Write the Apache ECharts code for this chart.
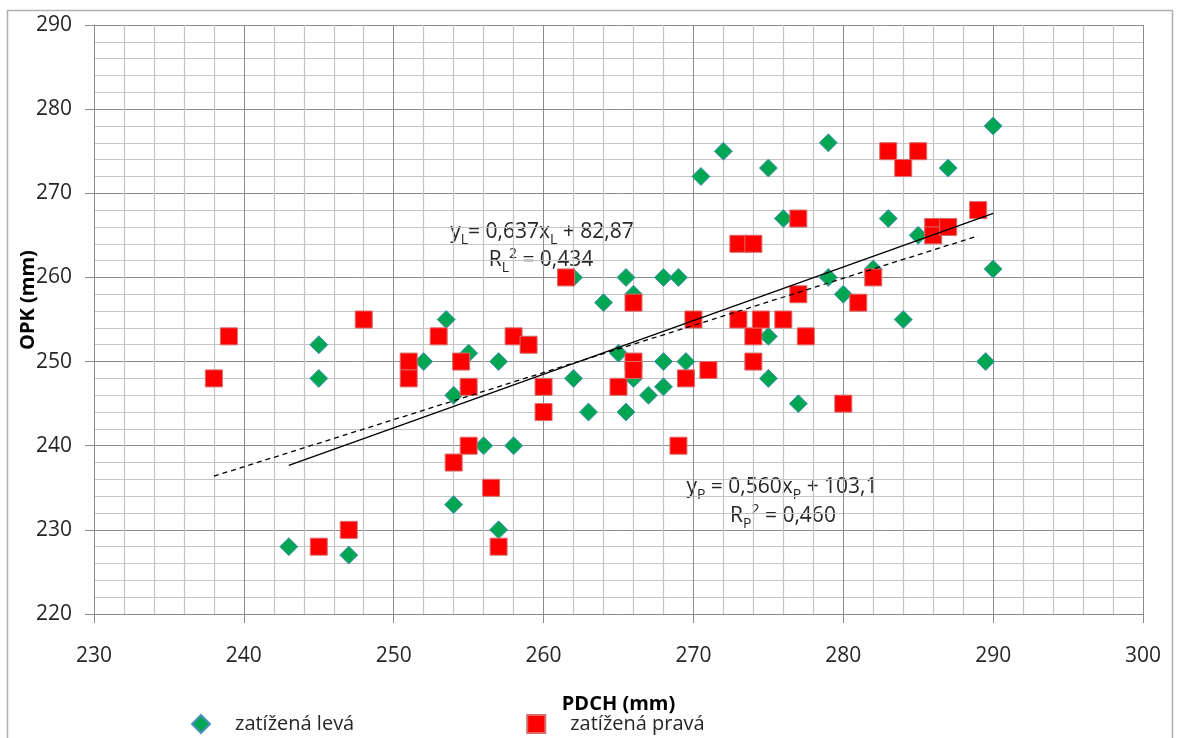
<!DOCTYPE html>
<html>
<head>
<meta charset="utf-8">
<title>OPK vs PDCH</title>
<script src="https://cdn.jsdelivr.net/npm/echarts@6/dist/echarts.min.js"></script>
<style>
  html, body { margin: 0; padding: 0; background: #fff; }
  #chart { width: 1178px; height: 738px; }
</style>
</head>
<body>
<div id="chart"></div>
<script>
// zatížená levá (loaded left side): PDCH and OPK in mm
const levaPDCH = [243, 245, 245, 247, 252, 253.5, 254, 254, 255, 256, 257, 257, 258, 262, 262, 263,
  264, 265, 265.5, 265.5, 266, 266, 267, 268, 268, 268, 269, 269.5, 270.5, 272, 275, 275, 275,
  276, 277, 279, 279, 280, 282, 283, 284, 285, 287, 289.5, 290, 290];
const levaOPK = [228, 252, 248, 227, 250, 255, 246, 233, 251, 240, 250, 230, 240, 260, 248, 244,
  257, 251, 260, 244, 258, 248, 246, 260, 250, 247, 260, 250, 272, 275, 273, 253, 248,
  267, 245, 276, 260, 258, 261, 267, 255, 265, 273, 250, 278, 261];

// zatížená pravá (loaded right side): PDCH and OPK in mm
const pravaPDCH = [238, 239, 245, 247, 248, 251, 251, 253, 254, 254.5, 255, 255, 256.5, 257, 258,
  259, 260, 260, 261.5, 265, 266, 266, 266, 269, 269.5, 270, 271, 273, 273, 274, 274, 274,
  274.5, 276, 277, 277, 277.5, 280, 281, 282, 283, 284, 285, 286, 286, 287, 289];
const pravaOPK = [248, 253, 228, 230, 255, 250, 248, 253, 238, 250, 247, 240, 235, 228, 253,
  252, 247, 244, 260, 247, 257, 250, 249, 240, 248, 255, 249, 264, 255, 264, 253, 250,
  255, 255, 267, 258, 253, 245, 257, 260, 275, 273, 275, 266, 265, 266, 268];

// linear trends: [slope, intercept, x from, x to]
const trendLeva = [0.637, 82.87, 243, 290];
const trendPrava = [0.560, 103.1, 238, 289];

// axis ticks
const xTicks = [230, 240, 250, 260, 270, 280, 290, 300];
const yTicks = [220, 230, 240, 250, 260, 270, 280, 290];

const pairs = (xs, ys) => xs.map((x, i) => [x, ys[i]]);
const trendLine = t => [[t[2], t[0] * t[2] + t[1]], [t[3], t[0] * t[3] + t[1]]];

const FONT = '"Open Sans", "Noto Sans", sans-serif';
const TXT = '#262626';

const chart = echarts.init(document.getElementById('chart'), null, { renderer: 'canvas' });

const axisCommon = {
  type: 'value',
  axisLine: { show: true, lineStyle: { color: '#8c8c8c', width: 1 } },
  axisTick: { show: true, inside: false, length: 9, lineStyle: { color: '#8c8c8c' } },
  splitLine: { show: true, lineStyle: { color: '#8c8c8c', width: 1 } },
  minorTick: { show: false, splitNumber: 5 },
  minorSplitLine: { show: true, lineStyle: { color: '#c4c4c4', width: 1.2 } },
  axisLabel: { color: TXT, fontSize: 21, fontFamily: FONT }
};

const eqRich = {
  n: { fill: TXT, fontSize: 21, fontFamily: FONT, lineHeight: 26, verticalAlign: 'bottom' },
  s: { fill: TXT, fontSize: 14, fontFamily: FONT, lineHeight: 26, verticalAlign: 'bottom', padding: [0, 0, -4, 0] },
  p: { fill: TXT, fontSize: 14, fontFamily: FONT, lineHeight: 26, verticalAlign: 'top', padding: [2, 0, 0, 0] }
};

chart.setOption({
  animation: false,
  backgroundColor: '#fff',
  grid: { left: 94, right: 35, top: 25, bottom: 124, containLabel: false },
  xAxis: Object.assign({}, axisCommon, {
    min: xTicks[0], max: xTicks[xTicks.length - 1], interval: 10,
    axisLabel: Object.assign({}, axisCommon.axisLabel, { margin: 32 }),
    name: 'PDCH (mm)', nameLocation: 'middle', nameGap: 80,
    nameTextStyle: { color: '#000', fontSize: 20, fontWeight: 'bold', fontFamily: FONT }
  }),
  yAxis: Object.assign({}, axisCommon, {
    min: yTicks[0], max: yTicks[yTicks.length - 1], interval: 10,
    axisLabel: Object.assign({}, axisCommon.axisLabel, { margin: 22 })
  }),
  legend: {
    left: 186, top: 709,
    itemWidth: 18, itemHeight: 18, itemGap: 172,
    textStyle: { color: TXT, fontSize: 20, fontFamily: FONT, padding: [0, 0, 0, 20] },
    data: [
      { name: 'zatížená levá', icon: 'diamond' },
      { name: 'zatížená pravá', icon: 'rect' }
    ]
  },
  graphic: [
    { type: 'rect', shape: { x: 7.5, y: 10.5, width: 1165, height: 740 },
      style: { fill: 'none', stroke: '#b0b0b0', lineWidth: 1.5 }, silent: true, z: -1 },
    { type: 'text', x: 28, y: 300, rotation: Math.PI / 2,
      style: { text: 'OPK (mm)', fill: '#000', font: 'bold 20px ' + FONT, align: 'center', verticalAlign: 'middle' } },
    { type: 'text', x: 542, y: 230,
      style: { text: '{n|y}{s|L}{n|= 0,637x}{s|L}{n| + 82,87}', align: 'center', verticalAlign: 'middle', rich: eqRich } },
    { type: 'text', x: 541, y: 258,
      style: { text: '{n|R}{s|L}{p|2}{n| = 0,434}', align: 'center', verticalAlign: 'middle', rich: eqRich } },
    { type: 'text', x: 782, y: 485,
      style: { text: '{n|y}{s|P}{n| = 0,560x}{s|P}{n| + 103,1}', align: 'center', verticalAlign: 'middle', rich: eqRich } },
    { type: 'text', x: 783, y: 514,
      style: { text: '{n|R}{s|P}{p|2}{n| = 0,460}', align: 'center', verticalAlign: 'middle', rich: eqRich } }
  ],
  series: [
    {
      name: 'zatížená levá', type: 'scatter', symbol: 'diamond', symbolSize: 18, z: 2,
      itemStyle: { color: '#00a651', borderColor: '#4f8fbf', borderWidth: 1, opacity: 1 },
      data: pairs(levaPDCH, levaOPK)
    },
    {
      name: 'zatížená pravá', type: 'scatter', symbol: 'rect', symbolSize: 17, z: 3,
      itemStyle: { color: '#ff0000', borderColor: '#d86a6a', borderWidth: 1, opacity: 1 },
      data: pairs(pravaPDCH, pravaOPK)
    },
    {
      name: 'trend levá', type: 'line', z: 4, symbol: 'none', silent: true,
      lineStyle: { color: '#000', width: 1.3, type: 'solid' },
      data: trendLine(trendLeva)
    },
    {
      name: 'trend pravá', type: 'line', z: 4, symbol: 'none', silent: true,
      lineStyle: { color: '#000', width: 1.3, type: [5, 4] },
      data: trendLine(trendPrava)
    }
  ]
});
</script>
</body>
</html>
